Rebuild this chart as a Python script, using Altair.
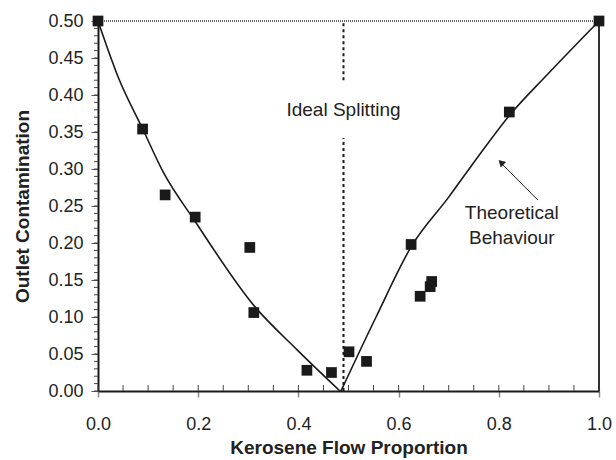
import altair as alt
import pandas as pd

# measured points
flow = [0.0, 0.089, 0.134, 0.194, 0.303, 0.311, 0.417, 0.466, 0.501, 0.536, 0.625, 0.643, 0.663, 0.666, 0.821, 1.0]
contam = [0.50, 0.354, 0.265, 0.235, 0.194, 0.106, 0.028, 0.025, 0.053, 0.040, 0.198, 0.128, 0.141, 0.148, 0.377, 0.50]

# theoretical behaviour curve (two branches)
theory_left_x = [0.0, 0.041, 0.090, 0.130, 0.194, 0.313, 0.397, 0.483]
theory_left_y = [0.50, 0.423, 0.353, 0.296, 0.229, 0.114, 0.056, 0.0]
theory_right_x = [0.485, 0.555, 0.626, 0.700, 0.760, 0.822, 0.896, 1.0]
theory_right_y = [0.0, 0.100, 0.196, 0.262, 0.318, 0.373, 0.427, 0.50]

# ideal splitting line
ideal_x = 0.49
ideal_seg_lo = [0.0, 0.42]
ideal_seg_hi = [0.342, 0.50]

x_major = [0.0, 0.2, 0.4, 0.6, 0.8, 1.0]
x_minor = [round(i * 0.05, 2) for i in range(21)]
y_major = [round(i * 0.05, 2) for i in range(11)]
y_minor = [round(i * 0.01, 2) for i in range(51)]

FONT = "Liberation Sans"
INK = "#1a1a1a"

pts = pd.DataFrame({"x": flow, "y": contam})
theory = pd.DataFrame({
    "x": theory_left_x + theory_right_x,
    "y": theory_left_y + theory_right_y,
    "branch": ["L"] * len(theory_left_x) + ["R"] * len(theory_right_x),
})

xs = alt.Scale(domain=[0, 1], nice=False, zero=False)
ys = alt.Scale(domain=[0, 0.5], nice=False, zero=False)

x_axis = alt.Axis(
    orient="bottom", values=x_major, format=".1f", title="Kerosene Flow Proportion",
    grid=False, domainColor=INK, domainWidth=2, tickColor="#888", tickWidth=1.5,
    tickSize=6, labelPadding=18, labelFlush=False, labelFontSize=18, labelFont=FONT,
    labelColor="#222", titleFont=FONT, titleFontSize=19, titleFontWeight="bold",
    titleColor="#222", titlePadding=5)
y_axis = alt.Axis(
    orient="left", values=y_major, format=".2f", title="Outlet Contamination",
    grid=False, domainColor=INK, domainWidth=2, tickColor="#555", tickWidth=1,
    tickSize=7, labelPadding=8, labelFlush=False, labelFontSize=18, labelFont=FONT,
    labelColor="#222", titleFont=FONT, titleFontSize=19, titleFontWeight="bold",
    titleColor="#222", titlePadding=15)


def X(field="x:Q"):
    return alt.X(field, scale=xs, axis=x_axis)


def Y(field="y:Q"):
    return alt.Y(field, scale=ys, axis=y_axis)


main = alt.Chart(pts).mark_square(size=115, color=INK, opacity=1).encode(x=X(), y=Y())

minor_x = alt.Chart(pd.DataFrame({"x": x_minor, "y": [0.0] * len(x_minor)})).mark_tick(
    orient="vertical", size=6, thickness=1, yOffset=-3, color="#444", opacity=1).encode(x=X(), y=Y())

minor_y = alt.Chart(pd.DataFrame({"y": y_minor, "x": [0.0] * len(y_minor)})).mark_tick(
    orient="horizontal", size=4, thickness=1, xOffset=-2, color="#444", opacity=1).encode(x=X(), y=Y())

top_rule = alt.Chart(pd.DataFrame({"y": [0.5]})).mark_rule(
    color="#666", strokeWidth=2, strokeDash=[1, 1]).encode(y=Y())

right_rule = alt.Chart(pd.DataFrame({"x": [1.0]})).mark_rule(
    color="#333", strokeWidth=2).encode(x=X())

ideal = alt.Chart(pd.DataFrame({"x": [ideal_x, ideal_x], "y": ideal_seg_lo, "y2": ideal_seg_hi})).mark_rule(
    color=INK, strokeWidth=2, strokeDash=[3, 3]).encode(x=X(), y=Y(), y2="y2:Q")

line = alt.Chart(theory).mark_line(color=INK, strokeWidth=1.6, interpolate="monotone").encode(
    x=X(), y=Y(), detail="branch:N")

labels = pd.DataFrame({
    "x": [0.49, 0.826, 0.826],
    "y": [0.38, 0.241, 0.207],
    "t": ["Ideal Splitting", "Theoretical", "Behaviour"],
})
text = alt.Chart(labels).mark_text(font=FONT, fontSize=19, color="#222", align="center", baseline="middle").encode(
    x=X(), y=Y(), text="t:N")

arrow_line = alt.Chart(pd.DataFrame({"x": [0.878], "y": [0.258], "x2": [0.803], "y2": [0.309]})).mark_rule(
    color="#222", strokeWidth=1).encode(x=X(), y=Y(), x2="x2:Q", y2="y2:Q")

arrow_head = alt.Chart(pd.DataFrame({"x": [0.806], "y": [0.308]})).mark_point(
    shape="triangle", angle=315, size=60, filled=True, color="#222", opacity=1).encode(x=X(), y=Y())

chart = alt.layer(
    minor_x, minor_y, top_rule, right_rule, ideal, line, arrow_line, arrow_head, text, main
).properties(
    width=501, height=370,
    autosize=alt.AutoSizeParams(type="none"),
    padding={"left": 98, "top": 21, "right": 17, "bottom": 69},
    background="white",
).configure_view(stroke=None)

chart.save("out.html", embed_options={"renderer": "svg", "actions": False})
